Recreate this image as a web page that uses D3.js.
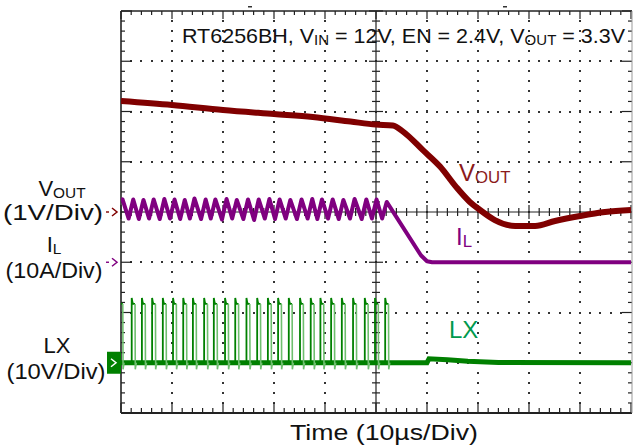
<!DOCTYPE html>
<html>
<head>
<meta charset="utf-8">
<script src="https://cdn.jsdelivr.net/npm/d3@7"></script>
<style>
  html, body { margin: 0; padding: 0; background: #fff; }
  text { font-family: "Liberation Sans", Arial, sans-serif; }
</style>
</head>
<body>
<svg id="scope" width="633" height="447"></svg>
<script>
// time axis in microseconds, trigger at the centre, 10us/div
const timeDomain = [-50, 50];

// VOUT trace (volts above its marker, 1V/div)
const voutT = [-50, -40, -30, -20, -12.4, -5, 0, 3.3, 5.3, 9.2, 12.6, 15.7, 18.4, 20.4, 23.3, 27.3, 31.2, 35.1, 40, 44.9, 50];
const voutV = [2.21, 2.13, 2.03, 1.95, 1.89, 1.80, 1.74, 1.72, 1.60, 1.23, 0.90, 0.50, 0.20, 0.04, -0.16, -0.28, -0.28, -0.18, -0.08, 0.0, 0.04];

// IL trace vertices (amps above its marker, 10A/div)
const ilT = [-50.0, -49.7,
  -48.5, -47.6, -46.5, -45.6, -44.5, -43.6, -42.4, -41.5, -40.4, -39.5,
  -38.4, -37.5, -36.5, -35.6, -34.3, -33.4, -32.4, -31.5, -30.2, -29.3,
  -28.2, -27.3, -26.0, -25.1, -23.9, -23.0, -21.8, -20.9, -19.8, -18.9,
  -17.7, -16.8, -15.5, -14.6, -13.4, -12.5, -11.5, -10.6, -9.4, -8.5,
  -7.3, -6.4, -5.1, -4.2, -2.8, -1.9, -0.8, 0.1, 1.2, 2.1,
  8.8, 10.0, 11.0, 50];
const ilA = [12.2, 12.5,
  8.7, 12.5, 8.6, 12.4, 8.7, 12.5, 8.6, 12.6, 8.7, 12.5,
  8.6, 12.4, 8.7, 12.7, 8.6, 12.5, 8.7, 12.5, 8.5, 12.6,
  8.7, 12.4, 8.6, 12.5, 8.4, 12.5, 8.7, 12.6, 8.6, 12.5,
  8.7, 12.4, 8.6, 12.5, 8.7, 12.6, 8.6, 12.5, 8.7, 12.5,
  8.6, 12.4, 8.7, 12.6, 8.6, 12.5, 8.7, 12.5, 8.7, 12.0,
  1.4, 0.2, 0.0, 0.0];

// LX switching pulses: rising-edge times (us) and levels (volts, 10V/div)
const lxPulseT = [-50.3, -47.9, -45.9, -43.9, -41.8, -39.8, -37.8, -35.9, -33.7, -31.8, -29.6, -27.6, -25.4,
  -23.3, -21.2, -19.2, -17.1, -14.9, -12.8, -10.9, -8.8, -6.7, -4.5, -2.2, -0.2, 1.8];
const lxSpike = 12.9, lxHigh = 11.7, lxUnder = -1.3, lxOnTime = 0.65;
// LX baseline after switching stops (small bump when IL reaches zero)
const lxBaseT = [-50, 10.0, 10.4, 14, 18, 24, 50];
const lxBaseV = [0, 0, 0.8, 0.6, 0.3, 0.05, 0];

// channel settings: marker position (div) and units per division
const channels = {
  vout: { offset: 0, perDiv: 1, color: "#800000" },
  il: { offset: -1, perDiv: 10, color: "#800080" },
  lx: { offset: -3, perDiv: 10, color: "#008000" }
};

const svg = d3.select("#scope");
const pLeft = 121, pRight = 632, pTop = 11, pBottom = 413;

const x = d3.scaleLinear().domain(timeDomain).range([pLeft, pRight - 1]);
const yDiv = d3.scaleLinear().domain([-4, 4]).range([pBottom, pTop]);
const chY = ch => v => yDiv(ch.offset + v / ch.perDiv);

svg.append("rect").attr("width", 633).attr("height", 447).attr("fill", "#fff");

svg.append("defs").append("clipPath").attr("id", "plotClip")
  .append("rect").attr("x", pLeft).attr("y", pTop).attr("width", pRight - pLeft).attr("height", pBottom - pTop);

// dotted graticule
const grid = svg.append("g").attr("fill", "#333");
const xDivs = d3.range(-40, 50, 10).filter(d => d !== 0);
const yDivs = d3.range(-3, 4).filter(d => d !== 0);
xDivs.forEach(t => {
  d3.range(-3.8, 3.81, 0.2).forEach(d => {
    grid.append("rect").attr("x", Math.round(x(t)) - 1).attr("y", Math.round(yDiv(d)) - 1).attr("width", 2).attr("height", 2);
  });
});
yDivs.forEach(d => {
  d3.range(-48, 48.01, 2).forEach(t => {
    grid.append("rect").attr("x", Math.round(x(t)) - 1).attr("y", Math.round(yDiv(d)) - 1).attr("width", 2).attr("height", 2);
  });
});

// centre cross with ticks
const axes = svg.append("g").attr("stroke", "#222").attr("stroke-width", 1.2);
axes.append("line").attr("x1", x(0)).attr("x2", x(0)).attr("y1", pTop).attr("y2", pBottom);
axes.append("line").attr("x1", pLeft).attr("x2", pRight).attr("y1", yDiv(0)).attr("y2", yDiv(0));
d3.range(-50, 50.01, 2).forEach(t => {
  const major = Math.abs(t % 10) < 0.01;
  const len = major ? 7 : 4;
  axes.append("line").attr("x1", x(t)).attr("x2", x(t)).attr("y1", yDiv(0) - len).attr("y2", yDiv(0) + len);
  // top and bottom border ticks
  axes.append("line").attr("x1", x(t)).attr("x2", x(t)).attr("y1", pTop).attr("y2", pTop + (major ? 8 : 4));
  axes.append("line").attr("x1", x(t)).attr("x2", x(t)).attr("y1", pBottom).attr("y2", pBottom - (major ? 10 : 5));
});
d3.range(-4, 4.01, 0.2).forEach(d => {
  const major = Math.abs(d - Math.round(d)) < 0.01;
  const len = major ? 7 : 4;
  axes.append("line").attr("x1", x(0) - len).attr("x2", x(0) + len).attr("y1", yDiv(d)).attr("y2", yDiv(d));
  axes.append("line").attr("x1", pLeft).attr("x2", pLeft + (major ? 11 : 4)).attr("y1", yDiv(d)).attr("y2", yDiv(d));
  axes.append("line").attr("x1", pRight).attr("x2", pRight - (major ? 10 : 4)).attr("y1", yDiv(d)).attr("y2", yDiv(d));
});

// borders
svg.append("line").attr("x1", pLeft).attr("x2", pLeft).attr("y1", pTop).attr("y2", pBottom).attr("stroke", "#222").attr("stroke-width", 1.6);
svg.append("line").attr("x1", pLeft).attr("x2", pRight).attr("y1", pTop).attr("y2", pTop).attr("stroke", "#222").attr("stroke-width", 1.4);
svg.append("line").attr("x1", pLeft).attr("x2", pRight).attr("y1", pBottom).attr("y2", pBottom).attr("stroke", "#222").attr("stroke-width", 2);
svg.append("line").attr("x1", pRight).attr("x2", pRight).attr("y1", pTop).attr("y2", pBottom).attr("stroke", "#999").attr("stroke-width", 1);

// traces
const traces = svg.append("g").attr("clip-path", "url(#plotClip)").attr("fill", "none");

// LX baseline band
const lxY = chY(channels.lx);
traces.append("path")
  .datum(d3.zip(lxBaseT, lxBaseV))
  .attr("stroke", channels.lx.color).attr("stroke-width", 5)
  .attr("d", d3.line().x(d => x(d[0])).y(d => lxY(d[1])));

// LX pulses: dark rising edge and top, light falling edge
lxPulseT.forEach(p => {
  const up = [[p, 0], [p, lxSpike], [p + 0.15, lxHigh + 0.3], [p + 0.3, lxHigh], [p + lxOnTime, lxHigh]];
  traces.append("path").datum(up)
    .attr("stroke", channels.lx.color).attr("stroke-width", 1.8)
    .attr("d", d3.line().x(d => x(d[0])).y(d => lxY(d[1])));
  const down = [[p + lxOnTime, lxHigh], [p + lxOnTime + 0.05, lxUnder], [p + lxOnTime + 0.25, 0]];
  traces.append("path").datum(down)
    .attr("stroke", "#6fbf6f").attr("stroke-width", 1.6)
    .attr("d", d3.line().x(d => x(d[0])).y(d => lxY(d[1])));
});

// IL
const ilY = chY(channels.il);
traces.append("path")
  .datum(d3.zip(ilT, ilA))
  .attr("stroke", channels.il.color).attr("stroke-width", 4).attr("stroke-linejoin", "round")
  .attr("d", d3.line().x(d => x(d[0])).y(d => ilY(d[1])));

// VOUT
const voutY = chY(channels.vout);
traces.append("path")
  .datum(d3.zip(voutT, voutV))
  .attr("stroke", channels.vout.color).attr("stroke-width", 6)
  .attr("d", d3.line().curve(d3.curveMonotoneX).x(d => x(d[0])).y(d => voutY(d[1])));

// channel markers
function chevron(g, cx, cy, color) {
  g.append("path").attr("d", `M${cx - 3},${cy - 4} L${cx + 2},${cy} L${cx - 3},${cy + 4}`)
    .attr("fill", "none").attr("stroke", color).attr("stroke-width", 1.5);
}
const markers = svg.append("g");
markers.append("rect").attr("x", 106).attr("y", yDiv(0) - 0.7).attr("width", 3).attr("height", 1.4).attr("fill", channels.vout.color);
chevron(markers, 115, yDiv(0), channels.vout.color);
markers.append("rect").attr("x", 106).attr("y", ilY(0) - 0.7).attr("width", 3).attr("height", 1.4).attr("fill", channels.il.color);
chevron(markers, 115, ilY(0), channels.il.color);
markers.append("rect").attr("x", 107).attr("y", lxY(0) - 11).attr("width", 14).attr("height", 22).attr("fill", channels.lx.color);
chevron(markers, 114, lxY(0), "#fff");

// small trigger marks above the screen
svg.append("rect").attr("x", 248).attr("y", 6).attr("width", 4).attr("height", 1.5).attr("fill", "#333");
svg.append("rect").attr("x", 503).attr("y", 6).attr("width", 4).attr("height", 1.5).attr("fill", "#333");

// text helper: parts are [string, isSubscript]
function label(px, py, parts, opts) {
  const t = svg.append("text").attr("x", px).attr("y", py)
    .attr("font-size", opts.size).attr("fill", opts.color || "#111")
    .attr("text-anchor", opts.anchor || "start");
  if (opts.width) t.attr("textLength", opts.width).attr("lengthAdjust", "spacingAndGlyphs");
  let shift = 0;
  parts.forEach(([s, sub]) => {
    const ts = t.append("tspan").text(s);
    const want = sub ? 2 : 0;
    if (sub) ts.attr("font-size", opts.size * 0.7);
    ts.attr("dy", want - shift);
    shift = want;
  });
  return t;
}

label(182, 43, [["RT6256BH, V"], ["IN", true], [" = 12V, EN = 2.4V, V"], ["OUT", true], [" = 3.3V"]], { size: 21, width: 443 });

label(62, 196, [["V"], ["OUT", true]], { size: 22, anchor: "middle" });
label(53, 220, [["(1V/Div)"]], { size: 22, anchor: "middle", width: 100 });
label(54, 252, [["I"], ["L", true]], { size: 22, anchor: "middle" });
label(54, 278, [["(10A/Div)"]], { size: 22, anchor: "middle", width: 97 });
label(57, 353, [["LX"]], { size: 22, anchor: "middle" });
label(56, 379, [["(10V/Div)"]], { size: 22, anchor: "middle", width: 99 });

label(384, 440, [["Time  (10\u00b5s/Div)"]], { size: 22, anchor: "middle", width: 188 });

label(459, 181, [["V"], ["OUT", true]], { size: 24, color: "#8b1a1a" });
label(456, 245, [["I"], ["L", true]], { size: 24, color: "#800080" });
label(449, 338, [["LX"]], { size: 24, color: "#00994d" });
</script>
</body>
</html>
